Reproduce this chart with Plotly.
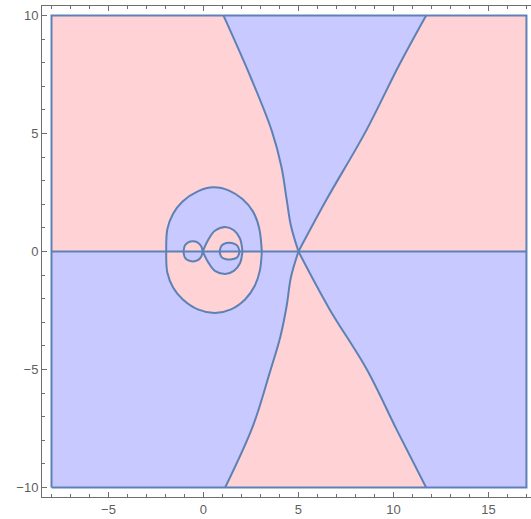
import plotly.graph_objects as go

PINK = "rgb(255,210,214)"
BLUE = "rgb(200,201,255)"
EDGE = "rgb(94,129,181)"
AXIS = "rgb(110,110,110)"
LW = 2.0

# plot region
x_min, x_max = -8.0, 17.0
y_min, y_max = -10.0, 10.0

# upper-left boundary curve (top edge -> crossing point)
ul_x = [1.05, 2.5, 3.6, 4.1, 4.38, 4.6, 5.0]
ul_y = [10.0, 7.35, 5.1, 3.6, 2.2, 1.1, 0.0]
# upper-right boundary line (crossing point -> top edge)
ur_x = [5.0, 6.47, 8.55, 10.3, 11.72]
ur_y = [0.0, 2.19, 5.1, 7.9, 10.0]
# lower-left boundary curve (bottom edge -> crossing point)
ll_x = [1.14, 2.6, 3.5, 4.05, 4.38, 4.6, 5.0]
ll_y = [-10.0, -7.4, -5.1, -3.6, -2.3, -1.1, 0.0]
# lower-right boundary line (crossing point -> bottom edge)
lr_x = [5.0, 6.62, 8.6, 10.2, 11.72]
lr_y = [0.0, -2.42, -5.0, -7.6, -10.0]

# large oval
ov_up_x = [-1.96, -1.9, -1.6, -1.1, -0.3, 0.53, 1.35, 2.05, 2.6, 2.93, 3.07]
ov_up_y = [0.0, 0.95, 1.6, 2.12, 2.55, 2.72, 2.58, 2.22, 1.7, 1.0, 0.0]
ov_lo_x = [-1.96, -1.9, -1.6, -1.1, -0.3, 0.6, 1.45, 2.2, 2.7, 2.97, 3.07]
ov_lo_y = [0.0, -0.9, -1.52, -2.02, -2.45, -2.6, -2.45, -2.02, -1.45, -0.8, 0.0]

# middle loop
ml_up_x = [-0.04, 0.25, 0.6, 1.14, 1.6, 1.92, 2.05]
ml_up_y = [0.0, 0.5, 0.88, 1.04, 0.9, 0.55, 0.0]
ml_lo_x = [-0.04, 0.25, 0.6, 1.14, 1.6, 1.92, 2.05]
ml_lo_y = [0.0, -0.46, -0.82, -0.95, -0.82, -0.5, 0.0]

# inner small loop (right)
ic_up_x = [0.85, 0.95, 1.2, 1.5, 1.78, 1.9]
ic_up_y = [0.0, 0.25, 0.36, 0.36, 0.25, 0.0]
ic_lo_x = [0.85, 0.95, 1.2, 1.5, 1.78, 1.9]
ic_lo_y = [0.0, -0.24, -0.33, -0.33, -0.24, 0.0]

# left small loop
lc_up_x = [-1.05, -0.98, -0.8, -0.56, -0.3, -0.12, -0.04]
lc_up_y = [0.0, 0.25, 0.39, 0.43, 0.38, 0.22, 0.0]
lc_lo_x = [-1.05, -0.98, -0.8, -0.56, -0.3, -0.12, -0.04]
lc_lo_y = [0.0, -0.25, -0.38, -0.42, -0.37, -0.22, 0.0]

x_ticks = [-5, 0, 5, 10, 15]
y_ticks = [-10, -5, 0, 5, 10]

fig = go.Figure()


def region(xs, ys, color, stroke=True, shape="linear"):
    fig.add_trace(go.Scatter(
        x=xs, y=ys, mode="lines", fill="toself", fillcolor=color,
        line=dict(color=EDGE if stroke else color, width=LW if stroke else 0, shape=shape),
        hoverinfo="skip", showlegend=False))


def curve(xs, ys):
    fig.add_trace(go.Scatter(
        x=xs, y=ys, mode="lines", line=dict(color=EDGE, width=LW, shape="spline", smoothing=1),
        hoverinfo="skip", showlegend=False))


# half-planes
region([x_min, x_max, x_max, x_min], [0, 0, y_max, y_max], PINK, stroke=False)
region([x_min, x_max, x_max, x_min], [0, 0, y_min, y_min], BLUE, stroke=False)
# wedges (fill), boundaries stroked smoothly
region(ul_x + ur_x[1:], ul_y + ur_y[1:], BLUE, stroke=False)
region(ll_x + lr_x[1:], ll_y + lr_y[1:], PINK, stroke=False)
curve(ul_x, ul_y)
curve(ur_x, ur_y)
curve(ll_x, ll_y)
curve(lr_x, lr_y)
# oval
region(ov_up_x, ov_up_y, BLUE, shape="spline")
region(ov_lo_x, ov_lo_y, PINK, shape="spline")
# middle loop
region(ml_up_x, ml_up_y, PINK, shape="spline")
region(ml_lo_x, ml_lo_y, BLUE, shape="spline")
# left loop
region(lc_up_x, lc_up_y, PINK, shape="spline")
region(lc_lo_x, lc_lo_y, BLUE, shape="spline")
# inner loop
region(ic_up_x, ic_up_y, BLUE, shape="spline")
region(ic_lo_x, ic_lo_y, PINK, shape="spline")

# real axis line and frame of the region
fig.add_trace(go.Scatter(x=[x_min, x_max], y=[0, 0], mode="lines",
                         line=dict(color=EDGE, width=LW), hoverinfo="skip", showlegend=False))
fig.add_trace(go.Scatter(x=[x_min, x_max, x_max, x_min, x_min], y=[y_min, y_min, y_max, y_max, y_min],
                         mode="lines", line=dict(color=EDGE, width=LW), hoverinfo="skip", showlegend=False))

axis_common = dict(showgrid=False, zeroline=False, showline=True, linecolor=AXIS, linewidth=1,
                   ticks="inside", ticklen=5, tickcolor=AXIS, tickwidth=1,
                   tickfont=dict(family="Liberation Sans, Arial, sans-serif", size=13, color="rgb(95,95,95)"))

fig.update_layout(
    width=531, height=519,
    margin=dict(l=42, r=0, t=6, b=22),
    paper_bgcolor="white", plot_bgcolor="white",
    xaxis=dict(range=[-8.5, 17.24], tickvals=x_ticks, mirror="ticks",
               minor=dict(dtick=1, tick0=0, ticks="inside", ticklen=3, tickcolor=AXIS, tickwidth=1),
               **axis_common),
    yaxis=dict(range=[-10.4, 10.4], tickvals=y_ticks, mirror=False,
               minor=dict(dtick=1, tick0=0, ticks="inside", ticklen=3, tickcolor=AXIS, tickwidth=1),
               **axis_common),
)

fig.write_html("out.html", config={"displayModeBar": False},
               post_script="document.body.style.margin='0';document.body.style.overflow='hidden';")
